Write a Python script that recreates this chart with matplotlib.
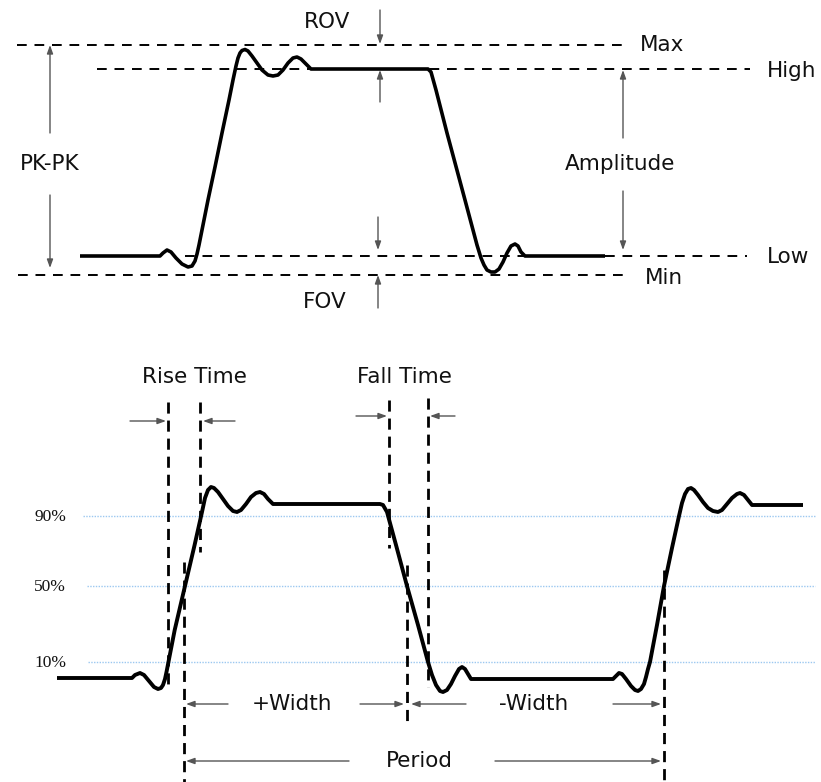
import matplotlib
matplotlib.use("Agg")
import matplotlib.pyplot as plt

# ---------------- data (pixel-space diagram coordinates) ----------------
# Top waveform
wave_top_x = [80, 160, 163, 167, 171, 176, 182, 188, 192, 195, 197, 199, 203, 208, 215, 222, 229, 233, 236, 238,
              240, 242, 245, 248, 252, 257, 262, 268, 273, 278, 283, 288, 293, 297, 301, 306, 311, 428, 431, 436,
              447, 465, 477, 481, 484, 487, 491, 495, 499, 503, 507, 511, 515, 518, 521, 525, 605]
wave_top_y = [256, 256, 253, 250, 252, 258, 264, 267, 266, 261, 254, 245, 225, 200, 167, 133, 100, 80, 66, 58,
              53, 50.5, 49.5, 51, 56, 63, 70, 75, 76, 75, 70, 63, 58, 57, 59, 64, 69, 69, 72, 90,
              133, 200, 245, 258, 265, 270, 272, 272, 269, 262, 253, 246, 244, 246, 252, 256, 256]

# Reference levels, top panel
level_names = ["Max", "High", "Low", "Min"]
level_y = [45, 69, 256, 275]
level_x0 = [17, 97, 185, 18]
level_x1 = [628, 750, 747, 628]
level_label_x = [640, 767, 767, 645]
level_label_y = [45, 71, 257, 278]

# Bottom waveform
wave_bot_x = [57, 132, 135, 140, 144, 149, 154, 158, 161, 163, 165, 166.5, 174.7, 185, 194.6, 202, 205, 208, 211, 214,
              218, 223, 228, 233, 237, 241, 246, 251, 256, 260, 264, 268, 273, 380, 383, 387, 396, 407, 418, 428,
              432, 436, 440, 443, 447, 451, 455, 459, 462, 465, 468, 471, 613, 616, 619, 622, 626, 631, 635, 638,
              641, 644, 646, 648, 650, 657, 664, 672, 679, 682, 685, 688, 691, 694, 698, 703, 708, 713, 718, 722,
              727, 732, 737, 740, 744, 748, 752, 803]
wave_bot_y = [678, 678, 675, 673, 675, 681, 687, 689, 688, 685, 679, 672, 630, 586, 545, 512, 498, 490, 487, 488,
              492, 499, 506, 511, 512, 510, 504, 497, 493, 492, 494, 499, 504, 504, 505, 512, 545, 586, 625, 662,
              675, 685, 691, 692, 690, 684, 676, 669, 667, 669, 674, 679, 679, 676, 673, 674, 679, 686, 690, 691,
              689, 684, 677, 669, 662, 625, 586, 548, 516, 503, 494, 489, 488, 490, 495, 502, 508, 511, 512, 510,
              504, 498, 494, 493, 495, 500, 505, 505]

# Percent levels, bottom panel
pct_labels = ["90%", "50%", "10%"]
pct_y = [516, 586, 662]
pct_x0 = [83, 87, 88]

# Vertical dashed markers, bottom panel
vline_x = [168, 200, 184, 389, 428, 407, 664]
vline_y0 = [402, 402, 562, 400, 398, 565, 570]
vline_y1 = [690, 552, 782, 548, 687, 727, 782]

# Arrows: (tail_x, tail_y, head_x, head_y)
arrows = [
    # top panel
    (380, 10, 380, 44), (380, 102, 380, 70),          # ROV
    (50, 133, 50, 45), (50, 195, 50, 268),            # PK-PK
    (378, 217, 378, 250), (378, 308, 378, 275),       # FOV
    (623, 138, 623, 70), (623, 191, 623, 250),        # Amplitude
    # bottom panel
    (130, 421, 166, 421), (235, 421, 203, 421),       # Rise time
    (356, 416, 387, 416), (455, 416, 430, 416),       # Fall time
    (228, 704, 186, 704), (360, 704, 404, 704),       # +Width
    (466, 704, 411, 704), (613, 704, 661, 704),       # -Width
    (349, 761, 186, 761), (495, 761, 661, 761),       # Period
]

# Labels: (text, x, y)
labels = [
    ("ROV", 327, 22), ("FOV", 325, 302), ("PK-PK", 50, 164), ("Amplitude", 620, 164),
    ("Rise Time", 194, 377), ("Fall Time", 404, 377), ("+Width", 292, 704),
    ("-Width", 534, 704), ("Period", 419, 761),
]

# ---------------- drawing ----------------
W, H = 821, 782
fig = plt.figure(figsize=(W / 100, H / 100), dpi=100)
ax = fig.add_axes([0, 0, 1, 1])
ax.set_xlim(0, W)
ax.set_ylim(H, 0)
ax.axis("off")

sans = ["DejaVu Sans"]
fs = 15.5

# top level lines
for name, y, x0, x1, lx, ly in zip(level_names, level_y, level_x0, level_x1, level_label_x, level_label_y):
    ax.plot([x0, x1], [y, y], color="black", lw=1.4, linestyle=(0, (5, 4)), zorder=2)
    ax.text(lx, ly, name, fontsize=fs, family=sans, ha="left", va="center", color="#111111")

ax.plot(wave_top_x, wave_top_y, color="black", lw=2.6, solid_joinstyle="round",
        solid_capstyle="butt", zorder=3)

# bottom percent lines
for lab, y, x0 in zip(pct_labels, pct_y, pct_x0):
    ax.plot([x0, 815], [y, y], color="#9cc8f0", lw=1.0, linestyle=(0, (1, 1)), zorder=1)
    ax.text(50, y + 1, lab, fontsize=12.5, family=["Liberation Serif"], ha="center", va="center",
            color="#111111")

for x, y0, y1 in zip(vline_x, vline_y0, vline_y1):
    ax.plot([x, x], [y0, y1], color="black", lw=2.0, linestyle=(0, (4, 2.5)), zorder=2)

ax.plot(wave_bot_x, wave_bot_y, color="black", lw=2.8, solid_joinstyle="round",
        solid_capstyle="butt", zorder=3)

for tx, ty, hx, hy in arrows:
    ax.annotate("", xy=(hx, hy), xytext=(tx, ty),
                arrowprops=dict(arrowstyle="-|>,head_length=0.5,head_width=0.18",
                                color="#555555", lw=1.0, mutation_scale=10,
                                shrinkA=0, shrinkB=0), zorder=4)

for t, x, y in labels:
    ax.text(x, y, t, fontsize=fs, family=sans, ha="center", va="center", color="#111111")

fig.savefig("out.png", dpi=100)
